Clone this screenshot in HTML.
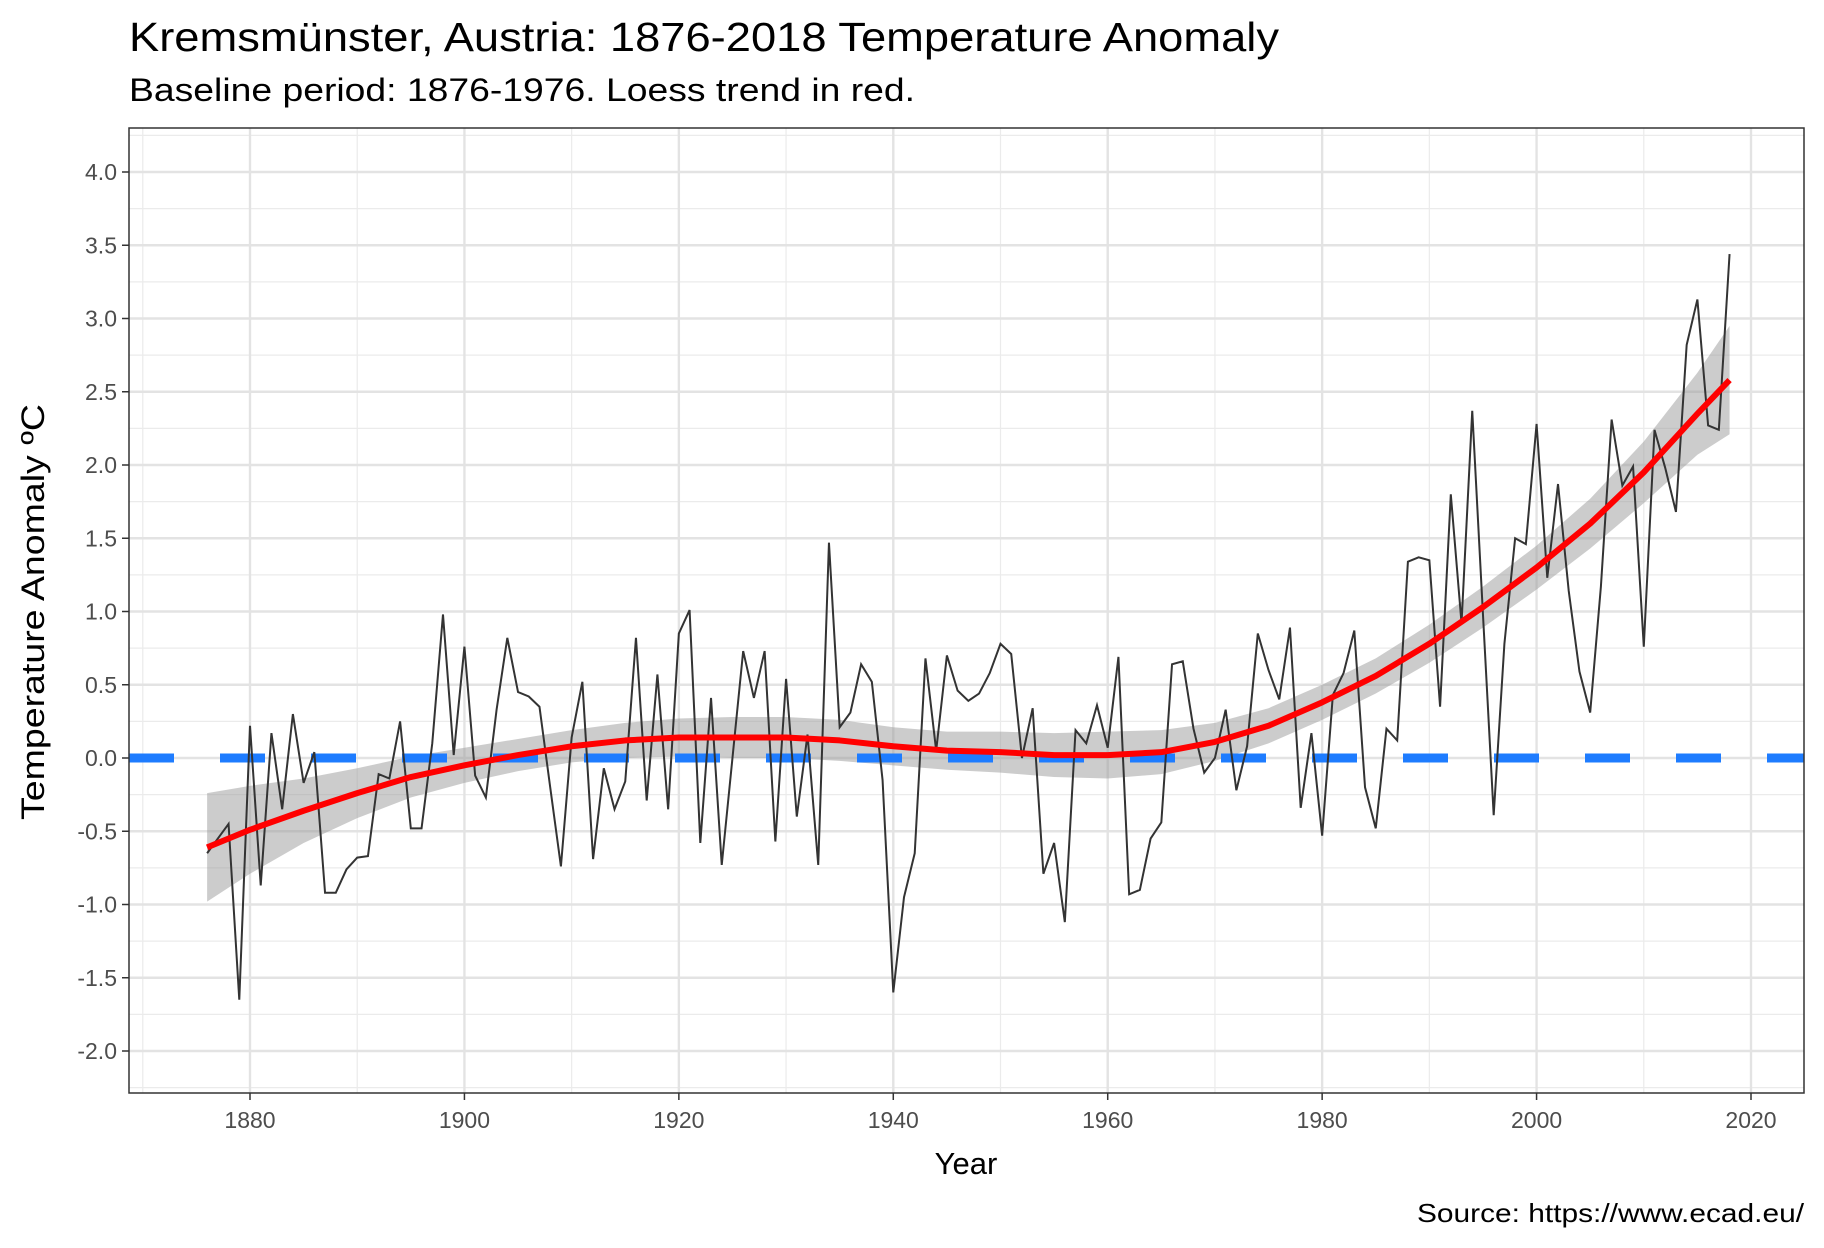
<!DOCTYPE html>
<html><head><meta charset="utf-8"><style>
html,body{margin:0;padding:0;background:#fff;}
svg{display:block;font-family:"Liberation Sans",Arial,sans-serif;}
</style></head><body>
<svg id="chart" width="1824" height="1248" viewBox="0 0 1824 1248" xmlns="http://www.w3.org/2000/svg">
<rect width="1824" height="1248" fill="#fff"/>
<text x="129" y="51" font-size="41" fill="#000" textLength="1150" lengthAdjust="spacingAndGlyphs">Kremsmünster, Austria: 1876-2018 Temperature Anomaly</text>
<text x="129" y="101" font-size="32" fill="#000" textLength="786" lengthAdjust="spacingAndGlyphs">Baseline period: 1876-1976. Loess trend in red.</text>
<g id="grid"></g>
<g id="marks"></g>
<rect x="129" y="128" width="1675" height="965" fill="none" stroke="#333" stroke-width="1.5"/>
<g id="axes"></g>
<text transform="translate(44,612) rotate(-90)" text-anchor="middle" font-size="32" fill="#000" textLength="416" lengthAdjust="spacingAndGlyphs">Temperature Anomaly ºC</text>
<text x="966" y="1174" text-anchor="middle" font-size="31" fill="#000">Year</text>
<text x="1804" y="1222" text-anchor="end" font-size="26" fill="#000" textLength="387" lengthAdjust="spacingAndGlyphs">Source: https://www.ecad.eu/</text>
</svg>
<script>
const years = [];
for (let y = 1876; y <= 2018; y++) years.push(y);
const anomalies = [-0.65,-0.55,-0.45,-1.65,0.22,-0.87,0.17,-0.35,0.30,-0.17,0.04,-0.92,-0.92,-0.76,-0.68,-0.67,-0.11,-0.14,0.25,-0.48,-0.48,0.10,0.98,0.02,0.76,-0.12,-0.27,0.33,0.82,0.45,0.42,0.35,-0.20,-0.74,0.14,0.52,-0.69,-0.07,-0.35,-0.16,0.82,-0.29,0.57,-0.35,0.85,1.01,-0.58,0.41,-0.73,0.0,0.73,0.41,0.73,-0.57,0.54,-0.40,0.16,-0.73,1.47,0.21,0.31,0.64,0.52,-0.15,-1.60,-0.95,-0.65,0.68,0.05,0.70,0.46,0.39,0.44,0.58,0.78,0.71,0.0,0.34,-0.79,-0.58,-1.12,0.19,0.10,0.36,0.07,0.69,-0.93,-0.90,-0.55,-0.44,0.64,0.66,0.20,-0.10,0.0,0.33,-0.22,0.08,0.85,0.60,0.40,0.89,-0.34,0.17,-0.53,0.43,0.58,0.87,-0.20,-0.48,0.20,0.12,1.34,1.37,1.35,0.35,1.80,0.92,2.37,0.98,-0.39,0.78,1.50,1.46,2.28,1.23,1.87,1.14,0.59,0.31,1.17,2.31,1.86,1.99,0.76,2.24,1.98,1.68,2.82,3.13,2.27,2.24,3.44];
const trendYears = [1876,1880,1885,1890,1895,1900,1905,1910,1915,1920,1925,1930,1935,1940,1945,1950,1955,1960,1965,1970,1975,1980,1985,1990,1995,2000,2005,2010,2015,2018];
const trendValues = [-0.61,-0.49,-0.36,-0.24,-0.13,-0.05,0.02,0.08,0.12,0.14,0.14,0.14,0.12,0.08,0.05,0.04,0.02,0.02,0.04,0.11,0.22,0.38,0.56,0.78,1.03,1.30,1.60,1.95,2.35,2.58];
const trendSE = [0.37,0.30,0.22,0.17,0.14,0.12,0.11,0.11,0.12,0.13,0.14,0.14,0.14,0.13,0.13,0.14,0.15,0.16,0.15,0.13,0.12,0.12,0.12,0.13,0.14,0.15,0.17,0.21,0.28,0.37];
const yTicks = [-2.0,-1.5,-1.0,-0.5,0.0,0.5,1.0,1.5,2.0,2.5,3.0,3.5,4.0];
const xTicks = [1880,1900,1920,1940,1960,1980,2000,2020];

const L=129,R=1804,T=128,B=1093;
const xs = v => 250 + (v-1880)*(1751-250)/140;
const ys = v => 758 - v*146.5;
const NS='http://www.w3.org/2000/svg';
function mk(tag, attrs, parent){const e=document.createElementNS(NS,tag);for(const k in attrs)e.setAttribute(k,attrs[k]);parent.appendChild(e);return e;}
const grid=document.getElementById('grid'), marks=document.getElementById('marks'), axes=document.getElementById('axes');

for(let v=-2.25; v<=4.3; v+=0.5){
  const g=mk('line',{x1:L,x2:R,y1:ys(v),y2:ys(v),stroke:'#ebebeb','stroke-width':1.2},grid);
  
  
}
for(let v=1870; v<=2030; v+=20){
  const g=mk('line',{x1:xs(v),x2:xs(v),y1:T,y2:B,stroke:'#ebebeb','stroke-width':1.2},grid);
  
  
}
yTicks.forEach(v=>{
  const g=mk('line',{x1:L,x2:R,y1:ys(v),y2:ys(v),stroke:'#e3e3e3','stroke-width':2.4},grid);
  
  
  const t=mk('line',{x1:L-7,x2:L,y1:ys(v),y2:ys(v),stroke:'#333','stroke-width':1.5},axes);
  
  
  const lb=mk('text',{x:L-12,y:ys(v)+8,'text-anchor':'end','font-size':23,fill:'#4d4d4d'},axes);
  lb.textContent=v.toFixed(1);
  
  
});
xTicks.forEach(v=>{
  const g=mk('line',{x1:xs(v),x2:xs(v),y1:T,y2:B,stroke:'#e3e3e3','stroke-width':2.4},grid);
  
  
  const t=mk('line',{x1:xs(v),x2:xs(v),y1:B,y2:B+7,stroke:'#333','stroke-width':1.5},axes);
  
  
  const lb=mk('text',{x:xs(v),y:B+35,'text-anchor':'middle','font-size':23,fill:'#4d4d4d'},axes);
  lb.textContent=v;
  
  
});

// confidence band
let up=trendYears.map((y,i)=>xs(y)+','+ys(trendValues[i]+trendSE[i]));
let lo=trendYears.map((y,i)=>xs(y)+','+ys(trendValues[i]-trendSE[i])).reverse();
const band=mk('polygon',{points:up.concat(lo).join(' '),fill:'#999','fill-opacity':0.5},marks);



// baseline dashed
const base=mk('line',{x1:L,x2:R,y1:ys(0),y2:ys(0),stroke:'#1e7cff','stroke-width':9,'stroke-dasharray':'45 46','stroke-dashoffset':0},marks);



// anomaly line
const ap=mk('polyline',{points:years.map((y,i)=>xs(y)+','+ys(anomalies[i])).join(' '),fill:'none',stroke:'#333','stroke-width':2},marks);



// trend line
const tp=mk('polyline',{points:trendYears.map((y,i)=>xs(y)+','+ys(trendValues[i])).join(' '),fill:'none',stroke:'#ff0000','stroke-width':6,'stroke-linejoin':'round'},marks);


</script>
</body></html>
